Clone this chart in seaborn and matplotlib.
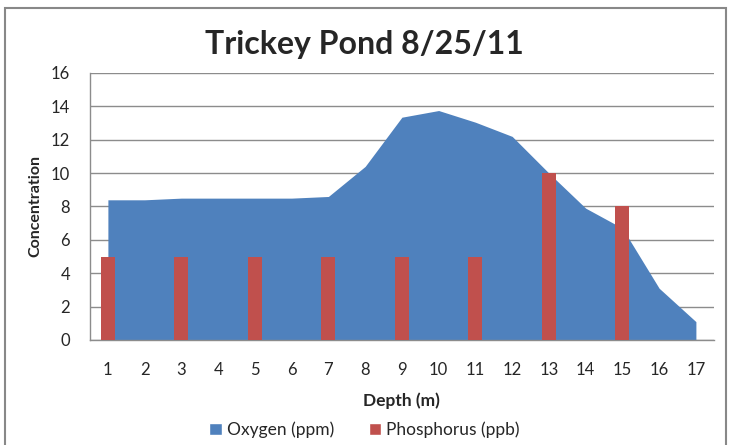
import matplotlib
matplotlib.use('Agg')
import matplotlib.pyplot as plt
import seaborn as sns
import pandas as pd
import numpy as np
from matplotlib.patches import Rectangle, Patch

depth = list(range(1, 18))
oxygen = [8.4, 8.4, 8.5, 8.5, 8.5, 8.5, 8.6, 10.4, 13.35, 13.75, 13.05, 12.2, 10.0, 7.9, 6.7, 3.1, 1.1]
p_depth = [1, 3, 5, 7, 9, 11, 13, 15]
phosphorus = [5, 5, 5, 5, 5, 5, 10, 8]

blue = '#4F81BD'
red = '#C0504D'
grid_col = '#8C8C8C'

sns.set_style('white')
plt.rcParams['font.family'] = ['Lato', 'DejaVu Sans']

fig = plt.figure(figsize=(7.29, 4.45), dpi=100)
ax = fig.add_axes([0.1228, 0.236, 0.857, 0.60])

# area for oxygen (on category positions)
pos = np.arange(len(depth))
ax.fill_between(pos, oxygen, 0, color=blue, linewidth=0, zorder=2)

# bars for phosphorus
df_p = pd.DataFrame({'Depth': p_depth, 'Phosphorus': phosphorus})
sns.barplot(data=df_p, x='Depth', y='Phosphorus', order=depth, color=red,
            saturation=1, width=0.38, linewidth=0, ax=ax, zorder=3)

ax.set_xlim(-0.5, len(depth) - 0.5)
ax.set_ylim(0, 16)
ax.set_yticks(range(0, 17, 2))
ax.yaxis.grid(True, color=grid_col, linewidth=1)
ax.set_axisbelow(True)

ax.set_xticks(pos)
ax.set_xticklabels([str(d) for d in depth], fontsize=12)
ax.set_xticks(np.arange(-0.5, len(depth), 1), minor=True)
ax.tick_params(axis='x', which='major', length=0, pad=16)
ax.tick_params(axis='x', which='minor', length=4.5, color=grid_col, direction='out', width=1)
ax.tick_params(axis='y', length=5, color=grid_col, direction='out', labelsize=12, pad=9, width=1)

for s in ['top', 'right']:
    ax.spines[s].set_visible(False)
for s in ['left', 'bottom']:
    ax.spines[s].set_color(grid_col)
    ax.spines[s].set_linewidth(1)

ax.set_xlabel('Depth (m)', fontsize=12.5, fontweight='bold', labelpad=10)
ax.set_ylabel('Concentration', fontsize=11.5, fontweight='bold', labelpad=6)

fig.text(0.5, 0.9, 'Trickey Pond 8/25/11', ha='center', va='center',
         fontsize=23, fontweight='bold')

handles = [Patch(facecolor=blue, label='Oxygen (ppm)'),
           Patch(facecolor=red, label='Phosphorus (ppb)')]
fig.legend(handles=handles, loc='center', bbox_to_anchor=(0.5, 0.034), ncol=2,
           frameon=False, fontsize=12.5, handlelength=0.7, handleheight=0.7,
           handletextpad=0.3, columnspacing=2.0)

fig.patches.append(Rectangle((5 / 729, -0.05), 721 / 729, 1.05 - 8 / 445,
                             transform=fig.transFigure, fill=False,
                             edgecolor='#888888', linewidth=1.5))

fig.savefig('out.png', dpi=100)
